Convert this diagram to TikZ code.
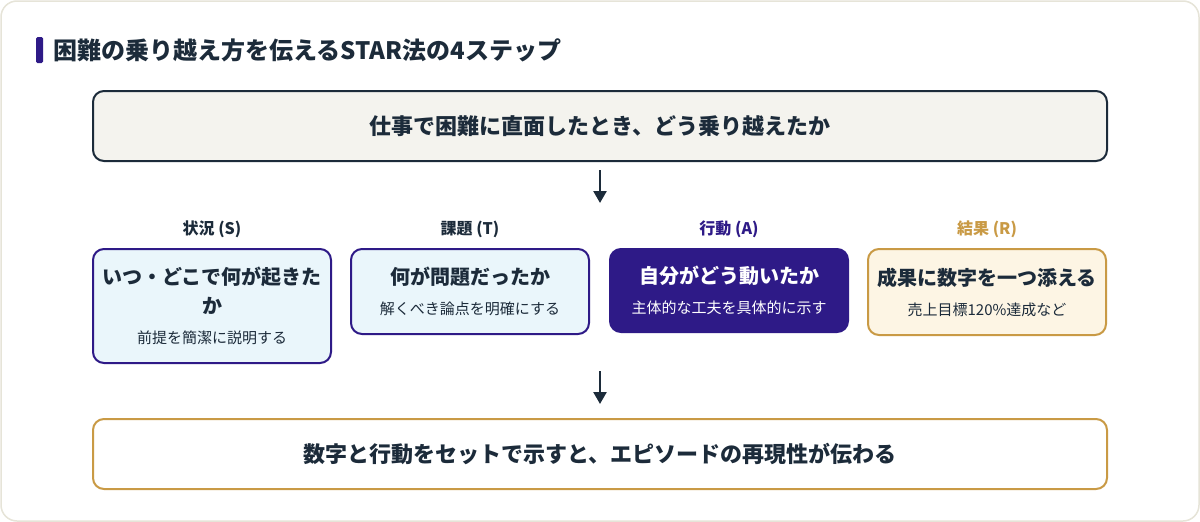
\documentclass[tikz,border=0pt]{standalone}
\usepackage{fontspec}
\setmainfont{Noto Sans CJK JP}
\usetikzlibrary{arrows.meta}
\definecolor{navy}{HTML}{1C2B3A}
\definecolor{violet}{HTML}{2E1A87}
\definecolor{gold}{HTML}{C99A45}
\definecolor{paper}{HTML}{F4F3EE}
\definecolor{sky}{HTML}{EAF6FB}
\definecolor{cream}{HTML}{FDF5E4}
\definecolor{frame}{HTML}{E6E4D8}
\newcommand{\bigtxt}{\fontsize{20}{24}\selectfont\bfseries}
\newcommand{\subtxt}{\fontsize{15}{18}\selectfont\mdseries}
\begin{document}
\begin{tikzpicture}[x=1pt,y=-1pt,
   wide/.style={draw,line width=2pt,rounded corners=11pt,minimum width=1014pt,minimum height=70pt,
     font=\fontsize{22}{26}\selectfont\bfseries,text=navy},
   card/.style={draw=violet,line width=2pt,fill=sky,rounded corners=11pt,minimum width=238pt,
     align=center,text=navy,font=\fontsize{15}{29}\selectfont},
   tag/.style={font=\fontsize{16}{19}\selectfont\bfseries},
   arr/.style={draw=navy,line width=2.5pt,-{Triangle[length=12pt,width=13pt]}}]
   \useasboundingbox (0,0) rectangle (1200,522);
   \draw[frame,line width=1.5pt,fill=white,rounded corners=16pt] (1,1) rectangle (1199,521);
   \fill[violet,rounded corners=1.5pt] (36,37) rectangle (43,63);
   \node[anchor=west,font=\fontsize{24}{28}\selectfont\bfseries,text=navy] (title) at (50,50)
     {困難の乗り越え方を伝えるSTAR法の4ステップ};

   \node[wide,draw=navy,fill=paper] (top) at (600,126) {仕事で困難に直面したとき、どう乗り越えたか};

   \node[tag,text=navy] (tS) at (212,229) {状況 (S)};
   \node[tag,text=navy] (tT) at (470,229) {課題 (T)};
   \node[tag,text=violet] (tA) at (729,229) {行動 (A)};
   \node[tag,text=gold] (tR) at (987,229) {結果 (R)};

   \node[card,anchor=north,minimum height=114pt] (S) at (212,248)
     {\bigtxt いつ・どこで何が起きた\\\bigtxt か\\[1pt]\subtxt 前提を簡潔に説明する};
   \node[card,anchor=north,minimum height=85pt] (T) at (470,248)
     {\bigtxt 何が問題だったか\\[1pt]\subtxt 解くべき論点を明確にする};
   \node[card,anchor=north,minimum height=83pt,fill=violet,text=white] (A) at (729,248)
     {\bigtxt 自分がどう動いたか\\[1pt]\subtxt 主体的な工夫を具体的に示す};
   \node[card,anchor=north,minimum height=86pt,draw=gold,fill=cream] (R) at (987,248)
     {\bigtxt 成果に数字を一つ添える\\[1pt]\subtxt 売上目標120\%達成など};

   \node[wide,draw=gold,fill=white] (bottom) at (600,454) {数字と行動をセットで示すと、エピソードの再現性が伝わる};

   \coordinate (a1) at (600,170);
   \coordinate (a2) at (600,203);
   \coordinate (b1) at (600,371);
   \coordinate (b2) at (600,404);
   \draw[arr] (a1) -- (a2);
   \draw[arr] (b1) -- (b2);
 \end{tikzpicture}
\end{document}
